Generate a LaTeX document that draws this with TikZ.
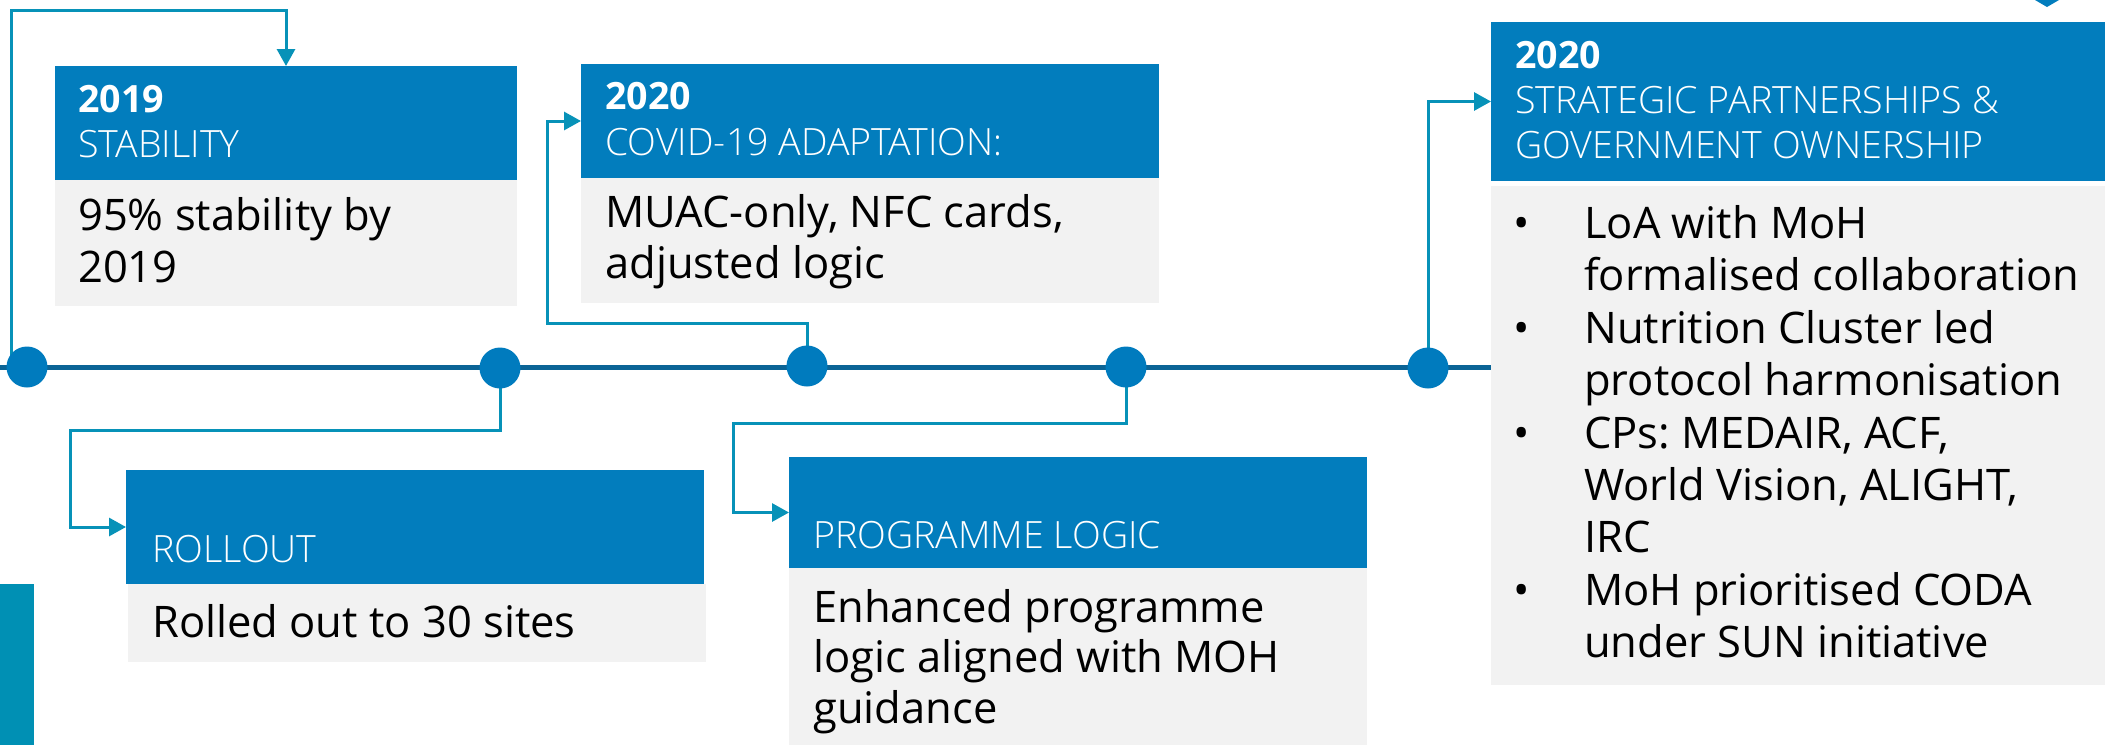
\documentclass[tikz,border=0pt]{standalone}
\usepackage{fontspec}
\setmainfont{Open Sans}
\newfontfamily\lightfont{Open Sans Light}
\usetikzlibrary{arrows.meta}
\definecolor{hblue}{HTML}{027DBD}
\definecolor{bgray}{HTML}{F2F2F2}
\definecolor{conteal}{HTML}{0792B8}
\definecolor{tline}{HTML}{0B6496}
\definecolor{dotblue}{HTML}{007BBE}
\definecolor{barteal}{HTML}{0090B4}
\frenchspacing
\begin{document}
\begin{tikzpicture}[x=1pt,y=-1pt,
  box/.style={rectangle, inner sep=0pt, outer sep=0pt, draw=none},
  hdr/.style={box, fill=hblue},
  bdy/.style={box, fill=bgray},
  dot/.style={circle, fill=dotblue, inner sep=0pt, outer sep=0pt, minimum size=41pt},
  conn/.style={draw=conteal, line width=3pt, -{Triangle[length=17pt,width=18pt]}},
  tl/.style={draw=tline, line width=5pt},
  ht/.style={anchor=base west, inner sep=0pt, text=white, font=\fontsize{37.6}{45}\selectfont\lightfont},
  yr/.style={anchor=base west, inner sep=0pt, text=white, font=\fontsize{37.6}{45}\selectfont\bfseries},
  bt/.style={anchor=base west, inner sep=0pt, text=black, font=\fontsize{43.5}{52}\selectfont}]
\useasboundingbox (0,0) rectangle (2105,745);
\fill[white] (0,0) rectangle (2105,745);

% boxes
\node[hdr, minimum width=462pt, minimum height=114pt] (h1) at (286,123) {};
\node[bdy, minimum width=462pt, minimum height=126pt] (b1) at (286,243) {};
\node[hdr, minimum width=578pt, minimum height=114pt] (h2) at (870,121) {};
\node[bdy, minimum width=578pt, minimum height=125pt] (b2) at (870,240.5) {};
\node[hdr, minimum width=578pt, minimum height=114pt] (h3) at (415,527) {};
\node[bdy, minimum width=578pt, minimum height=78pt] (b3) at (417,623) {};
\node[hdr, minimum width=578pt, minimum height=111pt] (h4) at (1078,512.5) {};
\node[bdy, minimum width=578pt, minimum height=177pt] (b4) at (1078,656.5) {};
\node[box, fill=barteal, minimum width=34pt, minimum height=161pt] (bar) at (17,664.5) {};

% timeline
\coordinate (t0) at (0,367);
\draw[tl] (t0) -- (1491,367);

% right box (covers timeline end)
\node[hdr, minimum width=614pt, minimum height=159pt] (h5) at (1798,101.5) {};
\node[bdy, minimum width=614pt, minimum height=499pt] (b5) at (1798,435.5) {};

% dots (positions)
\coordinate (c1p) at (27,367);
\coordinate (c2p) at (500,368);
\coordinate (c3p) at (807,366);
\coordinate (c4p) at (1126,367);
\coordinate (c5p) at (1428,368);

% bend coordinates
\coordinate (k1) at (11,10);
\coordinate (k2) at (70,430);
\coordinate (k3) at (547,323);
\coordinate (k4) at (733,423);

% connectors
\draw[conn] (c1p -| k1) -- (k1) -| (h1.north);
\draw[conn] (c2p) |- (k2) |- (h3.west);
\draw[conn] (c3p) |- (k3) |- (h2.west);
\draw[conn] (c4p) |- (k4) |- (h4.west);
\draw[conn] (c5p) |- (h5.west);

\node[dot] (c1) at (c1p) {};
\node[dot] (c2) at (c2p) {};
\node[dot] (c3) at (c3p) {};
\node[dot] (c4) at (c4p) {};
\node[dot] (c5) at (c5p) {};

% top-right partial arrow tip
\fill[hblue] (2035,0) -- (2059,0) -- (2047,7) -- cycle;

% texts box 1
\node[yr] (t1a) at (78,112) {2019};
\node[ht] (t1b) at (78,157) {STABILITY};
\node[bt] (t1c) at (78,230) {95\% stability by};
\node[bt] (t1d) at (78,282) {2019};
% box 2
\node[yr] (t2a) at (605,109) {2020};
\node[ht] (t2b) at (605,155) {COVID-19 ADAPTATION:};
\node[bt] (t2c) at (605,227) {MUAC-only, NFC cards,};
\node[bt] (t2d) at (605,278) {adjusted logic};
% rollout
\node[ht] (t3a) at (152,562) {ROLLOUT};
\node[bt] (t3b) at (152,637) {Rolled out to 30 sites};
% programme logic
\node[ht] (t4a) at (813,548) {PROGRAMME LOGIC};
\node[bt] (t4b) at (813,622) {Enhanced programme};
\node[bt] (t4c) at (813,672) {logic aligned with MOH};
\node[bt] (t4d) at (813,723) {guidance};
% right box
\node[yr] (t5a) at (1515,68) {2020};
\node[ht] (t5b) at (1515,113) {STRATEGIC PARTNERSHIPS \&};
\node[ht] (t5c) at (1515,158) {GOVERNMENT OWNERSHIP};
\node[bt] (p1) at (1513,238) {•};
\node[bt] (l1) at (1584,238) {LoA with MoH};
\node[bt] (l2) at (1584,290) {formalised collaboration};
\node[bt] (p2) at (1513,343) {•};
\node[bt] (l3) at (1584,343) {Nutrition Cluster led};
\node[bt] (l4) at (1584,395) {protocol harmonisation};
\node[bt] (p3) at (1513,448) {•};
\node[bt] (l5) at (1584,448) {CPs: MEDAIR, ACF,};
\node[bt] (l6) at (1584,500) {World Vision, ALIGHT,};
\node[bt] (l7) at (1584,552) {IRC};
\node[bt] (p4) at (1513,605) {•};
\node[bt] (l8) at (1584,605) {MoH prioritised CODA};
\node[bt] (l9) at (1584,657) {under SUN initiative};
\end{tikzpicture}
\end{document}
